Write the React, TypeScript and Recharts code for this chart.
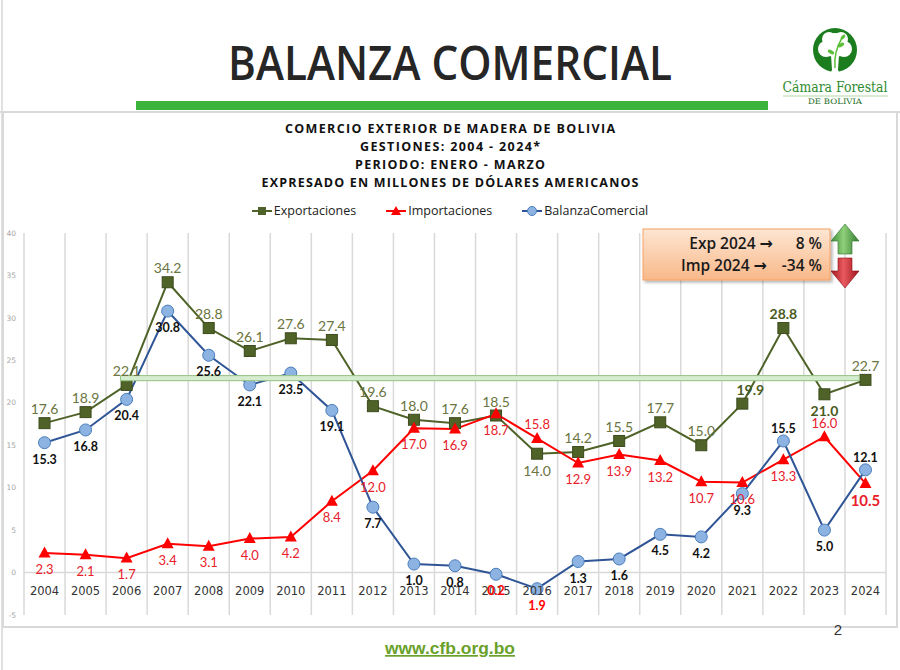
import React from 'react';
import { LineChart, Line, XAxis, YAxis, ReferenceLine, ReferenceArea, Legend, LabelList } from 'recharts';

const years = ['2004','2005','2006','2007','2008','2009','2010','2011','2012','2013','2014','2015','2016','2017','2018','2019','2020','2021','2022','2023','2024'];
const exportaciones = [17.6,18.9,22.1,34.2,28.8,26.1,27.6,27.4,19.6,18.0,17.6,18.5,14.0,14.2,15.5,17.7,15.0,19.9,28.8,21.0,22.7];
const importaciones = [2.3,2.1,1.7,3.4,3.1,4.0,4.2,8.4,12.0,17.0,16.9,18.7,15.8,12.9,13.9,13.2,10.7,10.6,13.3,16.0,10.5];
const balanzaComercial = [15.3,16.8,20.4,30.8,25.6,22.1,23.5,19.1,7.7,1.0,0.8,-0.2,-1.9,1.3,1.6,4.5,4.2,9.3,15.5,5.0,12.1];
const yTicks = [-5,0,5,10,15,20,25,30,35,40];
const titleLines = [
  'COMERCIO EXTERIOR DE MADERA DE BOLIVIA',
  'GESTIONES: 2004 - 2024*',
  'PERIODO: ENERO - MARZO',
  'EXPRESADO EN MILLONES DE DÓLARES AMERICANOS',
];
const annotationLines = [
  { label: 'Exp 2024', value: '8 %' },
  { label: 'Imp 2024', value: '-34 %' },
];
const seriesOrder = ['exp', 'imp', 'bal'];

// label placement (separate from data)
const expBelow = [12, 19];
const expBold = [17, 18, 19];
const impAbove = [12, 19];
const balAbove = [18, 20];

const data = years.map((y, i) => ({
  idx: i,
  year: y,
  exp: exportaciones[i],
  imp: importaciones[i],
  bal: balanzaComercial[i],
}));
const boundaries = Array.from({ length: years.length + 1 }, (_, i) => i - 0.5);

const labelFont = 'Lato, "Open Sans", sans-serif';

const ExpLabel = (p: any) => {
  const { x, y, value, index } = p;
  const below = expBelow.includes(index);
  const bold = expBold.includes(index);
  return (
    <text x={x + (index === 17 ? 8 : 0)} y={below ? y + 22 : y - 9} textAnchor="middle"
      fontFamily={labelFont} fontSize={14} fontWeight={bold ? 700 : 400}
      fill={bold ? '#4a5a22' : '#6a7540'}>
      {Number(value).toFixed(1)}
    </text>
  );
};

const ImpLabel = (p: any) => {
  const { x, y, value, index } = p;
  const above = impAbove.includes(index);
  const last = index === years.length - 1;
  return (
    <text x={x} y={above ? y - 9 : y + (last ? 23 : 21)} textAnchor="middle"
      fontFamily={labelFont} fontSize={last ? 15 : 13} fontWeight={last ? 700 : 400}
      fill="#e8202a">
      {Number(value).toFixed(1)}
    </text>
  );
};

const BalLabel = (p: any) => {
  const { x, y, value, index } = p;
  const above = balAbove.includes(index);
  const neg = value < 0;
  return (
    <text x={x} y={above ? y - 8 : y + 21} textAnchor="middle"
      fontFamily={labelFont} fontSize={12.5} fontWeight={700}
      fill={neg ? '#ff0000' : '#111111'}>
      {Math.abs(Number(value)).toFixed(1)}
    </text>
  );
};

const SquareDot = (p: any) => (
  <rect key={`s${p.index}`} x={p.cx - 5.5} y={p.cy - 5.5} width={11} height={11} fill="#4f6228" stroke="#3d4c1d" strokeWidth={1} />
);
const TriangleDot = (p: any) => (
  <polygon key={`t${p.index}`} points={`${p.cx},${p.cy - 6.5} ${p.cx - 6},${p.cy + 4.5} ${p.cx + 6},${p.cy + 4.5}`} fill="#ff0000" />
);
const CircleDot = (p: any) => (
  <circle key={`c${p.index}`} cx={p.cx} cy={p.cy} r={6} fill="#8db3e2" stroke="#4a7ebb" strokeWidth={1} />
);

const YearTick = (p: any) => (
  <text x={p.x} y={p.y - 28} textAnchor="middle" fontFamily='"DejaVu Sans", Verdana, sans-serif' fontSize={11.5} fill="#333">
    {years[p.payload.value]}
  </text>
);

const LegendIcon = ({ k }: { k: string }) => (
  <svg width={20} height={12} style={{ marginRight: 2 }}>
    {k === 'exp' && (<><line x1={0} y1={6} x2={20} y2={6} stroke="#4f6228" strokeWidth={2} /><rect x={6} y={2} width={8} height={8} fill="#4f6228" /></>)}
    {k === 'imp' && (<><line x1={0} y1={6} x2={20} y2={6} stroke="#ff0000" strokeWidth={2} /><polygon points="10,1 5,10 15,10" fill="#ff0000" /></>)}
    {k === 'bal' && (<><line x1={0} y1={6} x2={20} y2={6} stroke="#2f5597" strokeWidth={2} /><circle cx={10} cy={6} r={4.5} fill="#8db3e2" stroke="#4a7ebb" /></>)}
  </svg>
);

const renderLegend = (props: any) => {
  const payload = [...(props.payload || [])].sort(
    (a: any, b: any) => seriesOrder.indexOf(a.dataKey) - seriesOrder.indexOf(b.dataKey)
  );
  return (
    <div style={{ display: 'flex', justifyContent: 'center', gap: 30, fontFamily: '"Open Sans", sans-serif', fontSize: 12.5, color: '#222' }}>
      {payload.map((e: any) => (
        <span key={e.value} style={{ display: 'flex', alignItems: 'center' }}>
          <LegendIcon k={e.dataKey} />
          {e.value}
        </span>
      ))}
    </div>
  );
};

const Overlay = () => (
  <svg width={900} height={670} style={{ position: 'absolute', left: 0, top: 0, pointerEvents: 'none' }}>
    <defs>
      <linearGradient id="boxg" x1="0" y1="0" x2="0" y2="1">
        <stop offset="0" stopColor="#fde6d2" />
        <stop offset="1" stopColor="#f9b889" />
      </linearGradient>
      <linearGradient id="upg" x1="0" y1="0" x2="1" y2="0">
        <stop offset="0" stopColor="#3f8f3a" />
        <stop offset="0.45" stopColor="#8fd07a" />
        <stop offset="1" stopColor="#2f7a2d" />
      </linearGradient>
      <linearGradient id="downg" x1="0" y1="0" x2="1" y2="0">
        <stop offset="0" stopColor="#a3161f" />
        <stop offset="0.45" stopColor="#e85a5f" />
        <stop offset="1" stopColor="#9c1219" />
      </linearGradient>
      <filter id="sh" x="-10%" y="-10%" width="130%" height="140%">
        <feDropShadow dx="2" dy="2" stdDeviation="1.5" floodColor="#000" floodOpacity="0.3" />
      </filter>
    </defs>
    {/* frame */}
    <line x1={0} y1={112} x2={900} y2={112} stroke="#d9d9d9" strokeWidth={2} />
    <line x1={2} y1={0} x2={2} y2={670} stroke="#e0e0e0" strokeWidth={2} />
    <rect x={3} y={112} width={894} height={515} fill="none" stroke="#d9d9d9" strokeWidth={2} />

    {/* header */}
    <text x={450} y={80} textAnchor="middle" fontFamily='"Open Sans", sans-serif' fontWeight={600} fontSize={47}
      fill="#262626" textLength={444} lengthAdjust="spacingAndGlyphs">BALANZA COMERCIAL</text>
    <rect x={136} y={101} width={632} height={9} fill="#3cb43c" />

    {/* logo */}
    <g>
      <circle cx={835} cy={50} r={22} fill="#1b7d1e" />
      <circle cx={835} cy={45} r={12} fill="#fff" />
      <circle cx={826} cy={49} r={8} fill="#fff" />
      <circle cx={844} cy={49} r={8} fill="#fff" />
      <circle cx={829} cy={39} r={7} fill="#fff" />
      <circle cx={841} cy={39} r={7} fill="#fff" />
      <path d="M831,55 L839,55 L838,70 L842,78 L828,78 L832,70 Z" fill="#fff" />
      <path d="M835,68 C834,58 836,48 842,38" stroke="#5cbf3a" strokeWidth={1.5} fill="none" />
      <ellipse cx={841} cy={45} rx={3.5} ry={1.8} fill="#5cbf3a" transform="rotate(-30 841 45)" />
      <ellipse cx={831} cy={52} rx={3.5} ry={1.8} fill="#5cbf3a" transform="rotate(30 831 52)" />
      <ellipse cx={843} cy={37} rx={3} ry={1.6} fill="#5cbf3a" transform="rotate(-50 843 37)" />
      <text x={835} y={92} textAnchor="middle" fontFamily='"DejaVu Serif", serif' fontSize={14} fill="#2e8b2e"
        textLength={105} lengthAdjust="spacingAndGlyphs">Cámara Forestal</text>
      <line x1={783} y1={96} x2={888} y2={96} stroke="#9fcf8f" strokeWidth={0.8} />
      <text x={835} y={104} textAnchor="middle" fontFamily='"DejaVu Serif", serif' fontSize={7.5} fill="#1e6e1e"
        textLength={54} lengthAdjust="spacingAndGlyphs">DE BOLIVIA</text>
    </g>

    {/* chart titles */}
    {titleLines.map((t, i) => {
      const lens = [330, 180, 190, 377];
      return (
        <text key={t} x={450} y={133 + i * 18} textAnchor="middle" fontFamily='"Open Sans", sans-serif'
          fontWeight={700} fontSize={12.5} fill="#111" textLength={lens[i]} lengthAdjust="spacing">{t}</text>
      );
    })}

    {/* annotation box */}
    <rect x={643} y={229} width={187} height={51} fill="url(#boxg)" stroke="#f3a164" strokeWidth={1} filter="url(#sh)" />
    {annotationLines.map((l, i) => (
      <g key={l.label}>
        <text x={i === 0 ? 773 : 767} y={249 + i * 22} textAnchor="end" fontFamily='"Open Sans", sans-serif' fontWeight={600}
          fontSize={15.5} fill="#1a1a1a">
          {l.label + ' '}
          <tspan fontFamily='"DejaVu Sans", sans-serif' fontWeight={700} fontSize={16}>{'\u2192'}</tspan>
        </text>
        <text x={822} y={249 + i * 22} textAnchor="end" fontFamily='"Open Sans", sans-serif' fontWeight={600}
          fontSize={15.5} fill="#1a1a1a">{l.value}</text>
      </g>
    ))}
    <polygon points="845,224 859,241 852,241 852,254 838,254 838,241 831,241" fill="url(#upg)" stroke="#2c6e2a" strokeWidth={0.6} />
    <polygon points="838,258 852,258 852,271 859,271 845,288 831,271 838,271" fill="url(#downg)" stroke="#8a1016" strokeWidth={0.6} />

    {/* footer */}
    <text x={838} y={635} textAnchor="middle" fontFamily='"Liberation Sans", Arial, sans-serif' fontSize={15} fill="#333">2</text>
    <text x={450} y={654} textAnchor="middle" fontFamily='"Liberation Sans", Arial, sans-serif' fontWeight={700} fontSize={17}
      fill="#6aa12a" textDecoration="underline" textLength={130} lengthAdjust="spacingAndGlyphs">www.cfb.org.bo</text>
  </svg>
);

export default function App() {
  return (
    <div style={{ position: 'absolute', left: 0, top: 0, width: 900, height: 670, background: '#fff', overflow: 'hidden' }}>
      <LineChart width={900} height={670} data={data} margin={{ top: 233, right: 14, bottom: 35, left: 0 }}>
        <XAxis dataKey="idx" type="number" domain={[-0.5, years.length - 0.5]} ticks={data.map((d) => d.idx)}
          interval={0} height={20} axisLine={false} tickLine={false} tick={(p: any) => <YearTick {...p} />} allowDataOverflow />
        <YAxis width={24} domain={[-5, 40]} ticks={yTicks} interval={0} axisLine={false} tickLine={false}
          tick={{ fontSize: 7.5, fill: '#a6a6a6', fontFamily: '"DejaVu Sans", sans-serif' }} allowDataOverflow />
        {boundaries.map((b) => (
          <ReferenceLine key={b} x={b} stroke="#d9d9d9" strokeWidth={1.5} />
        ))}
        <ReferenceLine y={0} stroke="#d9d9d9" strokeWidth={1.5} />
        <Line dataKey="exp" name="Exportaciones" type="linear" stroke="#4f6228" strokeWidth={2}
          dot={SquareDot} activeDot={false} isAnimationActive={false}>
          <LabelList dataKey="exp" content={ExpLabel} />
        </Line>
        <Line dataKey="imp" name="Importaciones" type="linear" stroke="#ff0000" strokeWidth={2}
          dot={TriangleDot} activeDot={false} isAnimationActive={false}>
          <LabelList dataKey="imp" content={ImpLabel} />
        </Line>
        <Line dataKey="bal" name="BalanzaComercial" type="linear" stroke="#2f5597" strokeWidth={2}
          dot={CircleDot} activeDot={false} isAnimationActive={false}>
          <LabelList dataKey="bal" content={BalLabel} />
        </Line>
        <ReferenceArea x1={1.85} x2={19.85} y1={22.6} y2={23.2} fill="#d6ecce" fillOpacity={1}
          stroke="#93c383" strokeWidth={1} ifOverflow="visible" {...({ zIndex: 1500 } as any)} />
        <Legend layout="horizontal" verticalAlign="middle" align="center"
          wrapperStyle={{ top: 202, left: 0, width: 900 }} content={renderLegend} />
      </LineChart>
      <Overlay />
    </div>
  );
}
